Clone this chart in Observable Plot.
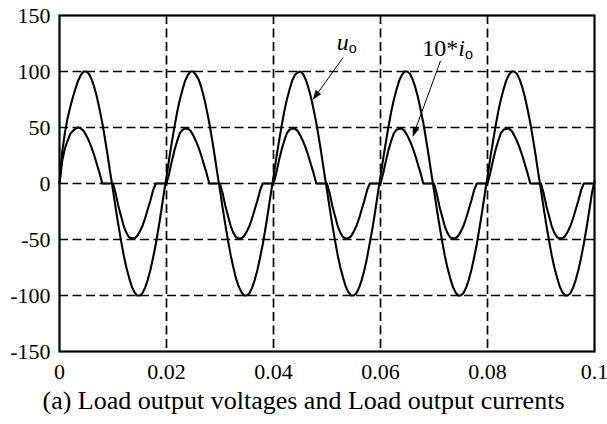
<!DOCTYPE html>
<html>
<head>
<meta charset="utf-8">
<script src="https://cdn.jsdelivr.net/npm/d3@7"></script>
<script src="https://cdn.jsdelivr.net/npm/@observablehq/plot@0.6"></script>
<style>
  body { margin: 0; background: #fff; }
  #chart { width: 607px; height: 386px; }
  #caption {
    width: 607px; text-align: center;
    font-family: "Liberation Serif", "Times New Roman", serif;
    font-size: 26px; line-height: 30px; color: #000;
  }
</style>
</head>
<body>
<div id="chart"></div>
<div id="caption">(a) Load output voltages and Load output currents</div>
<script>
// Sampling interval of the readings (seconds)
const sampleStep = 0.0005;

// Load output voltage u_o, read every 0.0005 s from 0 to 0.1 s
const uo = [
  0, 28, 45, 58, 68, 77, 85, 92, 97, 100, 100, 98, 93, 86, 77, 66, 54, 40, 25, 9,
  -6, -22, -37, -51, -64, -75, -84, -92, -97, -100, -100, -98, -93, -86, -77, -66, -54, -40, -25, -9,
  6, 22, 37, 51, 64, 75, 84, 92, 97, 100, 100, 97, 93, 86, 77, 66, 54, 40, 25, 9,
  -6, -22, -37, -51, -64, -75, -85, -92, -97, -100, -100, -98, -93, -86, -77, -66, -54, -40, -25, -9,
  6, 22, 37, 51, 64, 75, 84, 92, 97, 99, 100, 98, 93, 86, 77, 66, 54, 40, 25, 9,
  -6, -22, -37, -51, -64, -75, -84, -92, -97, -100, -100, -98, -93, -86, -77, -66, -53, -40, -25, -9,
  6, 22, 37, 51, 64, 75, 84, 92, 97, 100, 100, 98, 93, 86, 77, 66, 54, 40, 25, 9,
  -6, -22, -37, -51, -64, -75, -84, -92, -97, -100, -100, -98, -93, -86, -77, -66, -54, -40, -25, -9,
  6, 22, 37, 51, 64, 75, 84, 92, 97, 100, 100, 98, 93, 86, 77, 66, 54, 40, 25, 9,
  -6, -22, -37, -51, -64, -75, -84, -92, -97, -100, -100, -98, -93, -86, -77, -66, -54, -40, -25, -9,
  2
];

// Load output current times ten (10*i_o), same sampling
const io10 = [
  0, 20, 31, 38, 44, 47, 49, 50, 49, 47, 43, 38, 32, 25, 17, 9, 0, 0, 0, 0,
  0, -9, -20, -29, -38, -44, -48, -49, -49, -47, -43, -38, -31, -23, -15, -6, 0, 0, 0, 0,
  0, 9, 20, 30, 38, 45, 48, 49, 49, 47, 43, 38, 32, 25, 17, 9, 0, 0, 0, 0,
  0, -9, -20, -29, -38, -44, -48, -49, -49, -47, -43, -38, -31, -23, -15, -6, 0, 0, 0, 0,
  0, 9, 20, 30, 38, 45, 48, 49, 49, 47, 43, 38, 32, 25, 17, 9, 0, 0, 0, 0,
  0, -9, -20, -29, -38, -44, -48, -49, -49, -47, -43, -38, -31, -23, -15, -6, 0, 0, 0, 0,
  0, 9, 20, 30, 38, 45, 48, 49, 49, 47, 43, 38, 32, 25, 17, 9, 0, 0, 0, 0,
  0, -9, -20, -29, -38, -44, -48, -49, -49, -47, -43, -38, -31, -23, -15, -6, 0, 0, 0, 0,
  0, 9, 20, 30, 38, 45, 48, 49, 49, 47, 43, 38, 32, 25, 17, 9, 0, 0, 0, 0,
  0, -9, -20, -29, -38, -44, -48, -49, -49, -47, -43, -38, -31, -23, -15, -6, 0, 0, 0, 0,
  0
];

const xTicks = [0, 0.02, 0.04, 0.06, 0.08, 0.1];
const xTickLabels = ["0", "0.02", "0.04", "0.06", "0.08", "0.1"];
const yTicks = [-150, -100, -50, 0, 50, 100, 150];
const yTickLabels = ["-150", "-100", "-50", "0", "50", "100", "150"];
const xGrid = [0.02, 0.04, 0.06, 0.08];
const yGrid = [-100, -50, 0, 50, 100];

// Annotation labels (data coordinates of text start / baseline)
const labelTexts = [
  {parts: [{t: "u", italic: true}, {t: "o", sub: true}], x: 0.0519, y: 118.5},
  {parts: [{t: "10*"}, {t: "i", italic: true}, {t: "o", sub: true}], x: 0.0679, y: 113}
];
// Annotation arrows (from label to curve)
const arrowList = [
  {x1: 0.0531, y1: 112, x2: 0.0474, y2: 74},
  {x1: 0.0713, y1: 109, x2: 0.0661, y2: 41}
];

const series = [
  ...uo.map((v, i) => ({t: i * sampleStep, v, s: "uo"})),
  ...io10.map((v, i) => ({t: i * sampleStep, v, s: "io"}))
];

const serif = "'Liberation Serif', 'Times New Roman', serif";

function annotations(index, scales) {
  const {x, y} = scales;
  const g = d3.create("svg:g");
  for (const a of arrowList) {
    const x1 = x(a.x1), y1 = y(a.y1), x2 = x(a.x2), y2 = y(a.y2);
    const ang = Math.atan2(y2 - y1, x2 - x1);
    const L = 10, W = 3.4;
    const bx = x2 - L * Math.cos(ang), by = y2 - L * Math.sin(ang);
    g.append("line").attr("x1", x1).attr("y1", y1).attr("x2", bx).attr("y2", by)
      .attr("stroke", "black").attr("stroke-width", 1);
    const px = -Math.sin(ang) * W, py = Math.cos(ang) * W;
    g.append("path")
      .attr("d", `M${x2},${y2}L${bx + px},${by + py}L${bx - px},${by - py}Z`)
      .attr("fill", "black");
  }
  for (const l of labelTexts) {
    const t = g.append("text").attr("x", x(l.x)).attr("y", y(l.y))
      .attr("text-anchor", "start")
      .attr("font-family", serif).attr("font-size", 24).attr("fill", "black");
    for (const p of l.parts) {
      const s = t.append("tspan").text(p.t);
      if (p.italic) s.attr("font-style", "italic");
      if (p.sub) s.attr("font-size", 16).attr("dy", 3);
    }
  }
  return g.node();
}

const chart = Plot.plot({
  width: 607,
  height: 386,
  marginLeft: 59,
  marginRight: 13,
  marginTop: 15,
  marginBottom: 35,
  style: {fontFamily: serif, fontSize: "22px", color: "black", background: "white"},
  x: {domain: [0, 0.1]},
  y: {domain: [-150, 150]},
  marks: [
    Plot.gridX(xGrid, {stroke: "black", strokeOpacity: 1, strokeWidth: 1.7, strokeDasharray: "9,4.5"}),
    Plot.gridY(yGrid, {stroke: "black", strokeOpacity: 1, strokeWidth: 1.7, strokeDasharray: "9,4.5"}),
    Plot.line(series, {x: "t", y: "v", z: "s", stroke: "black", strokeWidth: 2.1}),
    Plot.axisX(xTicks, {tickSize: 0, tickPadding: 12, tickFormat: (d, i) => xTickLabels[i], label: null, fontSize: 22}),
    Plot.axisY(yTicks, {tickSize: 0, tickPadding: 9, tickFormat: (d, i) => yTickLabels[i], label: null, fontSize: 22}),
    Plot.frame({stroke: "black", strokeWidth: 2.2}),
    annotations
  ]
});
document.getElementById("chart").appendChild(chart);
</script>
</body>
</html>
